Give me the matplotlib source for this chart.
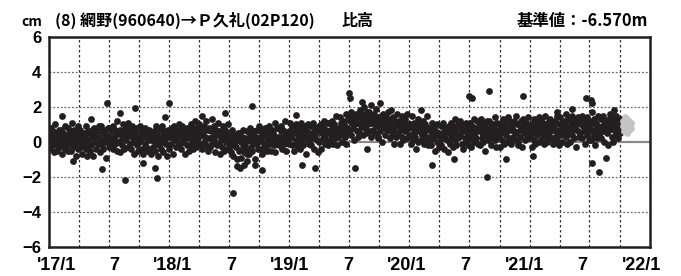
import pandas as pd
import matplotlib.pyplot as plt
import matplotlib.dates as mdates
import matplotlib.transforms as mtrans
from matplotlib.ticker import FuncFormatter

# height relative to baseline in mm, one value every 2 days (15 per row ~ 1 month)
vals_2017 = [4, -4, 8, 1, -1, 6, -6, 3, 10, -2, 2, -5, 5, 7, 0,
             -3, 3, 7, -7, 2, 5, -1, 9, -4, 1, 4, -2, 8, -5, 3,
             6, 0, -5, 4, 11, -3, 1, 7, -1, -8, 5, 3, -4, 9, 2,
             0, 7, -3, 4, -7, 2, 5, -1, 3, -4, 9, -8, 1, 6, -2,
             -5, 5, 2, -2, 7, -8, 4, 8, 0, 3, -4, 6, 1, -1, 9,
             3, -6, 6, 9, -2, 1, -4, 5, 2, 7, -9, 4, 0, 8, -3,
             8, 3, -2, 1, 6, 9, -4, 2, 7, -1, 4, 12, -5, 5, 0,
             0, 7, -6, 5, 2, -2, 10, 3, -4, 6, 8, 1, 4, -3, 11,
             6, -1, 4, -4, 9, 3, 0, 7, -7, 5, 2, 8, -2, 3, -5,
             0, 9, 1, 6, -4, 4, -7, 7, 3, -1, 8, -3, 5, -5, 1,
             7, -4, 3, 1, -7, 5, 2, -3, 6, 0, -5, 9, -1, 4, -8,
             -2, 1, 7, -4, 3, 9, 0, -6, 5, 2, 6, -1, 4, -8, 7,
             3, -2, 5]
vals_2018 = [-4, 6, 3, -1, 8, -7, 5, 9, 1, 4, -3, 7, 2, 0, 10,
             6, -1, 4, -4, 9, 3, 0, 7, -7, 5, 2, 8, -2, 3, -5,
             6, -2, 10, 3, 1, 8, -4, 5, 12, 0, 4, -3, 7, 9, 2,
             10, -1, 6, 4, -4, 8, 5, 0, 9, 3, -2, 12, 2, 7, -5,
             8, 2, -3, 6, 13, -1, 3, 9, 1, -6, 7, 5, -2, 11, 4,
             -1, 6, -7, 4, 1, -3, 9, 2, -5, 5, 7, 0, 3, -4, 10,
             -4, -1, 5, -6, 1, 7, -2, -8, 3, 0, 4, -3, 2, -10, 5,
             -5, 1, 5, -9, 0, 3, -3, 7, -6, -1, 2, -4, 6, -7, 1,
             2, -7, 5, 8, -3, 0, -5, 4, 1, 6, -10, 3, -1, 7, -4,
             0, 9, 1, 6, -4, 4, -7, 7, 3, -1, 8, -3, 5, -5, 1,
             2, 9, -1, 6, -5, 4, 7, 1, 5, -2, 11, -6, 3, 8, 0,
             8, 3, -2, 1, 6, 9, -4, 2, 7, -1, 4, 12, -5, 5, 0,
             4, -1, 6]
vals_2019 = [2, 11, 3, 8, -2, 6, -5, 9, 5, 1, 10, -1, 7, -3, 3,
             5, -4, 8, 11, 0, 3, -2, 7, 4, 9, -7, 6, 2, 10, -1,
             0, 3, 9, -2, 5, 11, 2, -4, 7, 4, 8, 1, 6, -6, 9,
             0, 6, 10, -4, 5, 8, 2, 12, -1, 4, 7, 1, 11, -2, 6,
             11, 6, 1, 4, 9, 12, -1, 5, 10, 2, 7, 15, -2, 8, 3,
             7, 14, 4, 11, 0, 9, 12, 6, 10, 3, 16, -1, 8, 13, 5,
             14, 7, 12, 4, 17, 11, 8, 15, 1, 13, 10, 16, 6, 11, 3,
             14, 6, 18, 11, 9, 16, 4, 13, 20, 8, 12, 5, 15, 17, 10,
             17, 6, 13, 11, 3, 15, 12, 7, 16, 10, 5, 19, 9, 14, 2,
             3, 13, 10, 6, 15, 0, 12, 16, 8, 11, 4, 14, 9, 7, 17,
             13, 7, 2, 11, 18, 4, 8, 14, 6, -1, 12, 10, 3, 16, 9,
             5, 12, -1, 10, 7, 3, 15, 8, 1, 11, 13, 6, 9, 2, 16,
             8, 4, 10]
vals_2020 = [10, 4, -1, 8, 15, 1, 5, 11, 3, -4, 9, 7, 0, 13, 6,
             11, 6, 1, 4, 9, 12, -1, 5, 10, 2, 7, 15, -2, 8, 3,
             8, 1, 6, -2, 11, 5, 2, 9, -5, 7, 4, 10, 0, 5, -3,
             0, 3, 9, -2, 5, 11, 2, -4, 7, 4, 8, 1, 6, -6, 9,
             7, -1, 11, 4, 2, 9, -3, 6, 13, 1, 5, -2, 8, 10, 3,
             3, 12, 4, 9, -1, 7, -4, 10, 6, 2, 11, 0, 8, -2, 4,
             1, 7, 11, -3, 6, 9, 3, 13, 0, 5, 8, 2, 12, -1, 7,
             7, -2, 10, 13, 2, 5, 0, 9, 6, 11, -5, 8, 4, 12, 1,
             5, 12, 2, 9, -2, 7, 10, 4, 8, 1, 14, -3, 6, 11, 3,
             3, 10, -3, 8, 5, 1, 13, 6, -1, 9, 11, 4, 7, 0, 14,
             13, 2, 9, 7, -1, 11, 8, 3, 12, 6, 1, 15, 5, 10, -2,
             0, 10, 7, 3, 12, -3, 9, 13, 5, 8, 1, 11, 6, 4, 14,
             7, 2, 9]
vals_2021 = [3, 10, -3, 8, 5, 1, 13, 6, -1, 9, 11, 4, 7, 0, 14,
             9, 1, 13, 6, 4, 11, -1, 8, 15, 3, 7, 0, 10, 12, 5,
             13, 2, 9, 7, -1, 11, 8, 3, 12, 6, 1, 15, 5, 10, -2,
             7, 14, 4, 11, 0, 9, 12, 6, 10, 3, 16, -1, 8, 13, 5,
             9, 0, 12, 15, 4, 7, 2, 11, 8, 13, -3, 10, 6, 14, 3,
             12, 5, 10, 2, 15, 9, 6, 13, -1, 11, 8, 14, 4, 9, 1,
             12, 6, 1, 10, 17, 3, 7, 13, 5, -2, 11, 9, 2, 15, 8,
             4, 7, 13, 2, 9, 15, 6, 0, 11, 8, 12, 5, 10, -2, 13,
             7, 16, 8, 13, 3, 11, 0, 14, 10, 6, 15, 4, 12, 2, 8,
             11, 5, 9, 13]
starts = ['2017-01-04', '2018-01-02', '2019-01-02', '2020-01-02', '2021-01-02']

# scattered points away from the band (date, cm)
out_dates = ['2017-02-10', '2017-06-25', '2017-06-12', '2017-08-20', '2017-08-05',
             '2017-09-20', '2017-11-25', '2017-11-20', '2018-01-01', '2018-07-15',
             '2018-06-20', '2018-09-10', '2018-10-10', '2018-07-25', '2018-08-05',
             '2019-01-20', '2019-02-10', '2019-03-20', '2019-06-30', '2019-07-05',
             '2019-07-20', '2019-10-05', '2020-02-05', '2020-03-10', '2020-06-30',
             '2020-07-08', '2020-08-30', '2020-08-25', '2020-12-10', '2021-01-10',
             '2021-06-20', '2021-07-05', '2021-07-08', '2021-07-30', '2021-07-10',
             '2021-05-10', '2017-03-15', '2017-05-10', '2017-10-15', '2017-12-20',
             '2018-04-10', '2018-08-15', '2018-08-25', '2018-09-20', '2019-08-10',
             '2019-09-05', '2019-08-25', '2020-05-15', '2020-10-20', '2021-03-25',
             '2021-08-20', '2021-09-15']
out_vals = [1.5, 2.2, -1.55, -2.2, 1.65,
            1.95, -2.05, -1.5, 2.25, -2.95,
            1.65, 2.05, -1.6, -1.4, -1.5,
            1.55, -1.3, -1.5, 2.8, 2.5,
            -1.5, 2.2, 1.8, -1.3, 2.65,
            2.5, 2.9, -2.0, 2.65, -0.8,
            2.5, 2.4, 2.2, -1.7, -1.2,
            1.9, -1.1, 1.3, -1.2, 1.4,
            1.5, -1.3, -1.1, -1.35, 2.3,
            2.1, -0.4, -1.0, -1.0, 1.7,
            -0.9, 1.8]

# preliminary values (gray), mm, every 2 days
gray_start = '2021-10-10'
gray_vals = [9, 12, 6, 14, 8, 11, 5, 13, 10, 7, 12, 9, 8, 11]

title_text = '(8) 網野(960640)→Ｐ久礼(02P120)'
kind_text = '比高'
base_text = '基準値：-6.570m'

plt.rcParams['font.family'] = ['Liberation Sans', 'Noto Sans CJK JP', 'DejaVu Sans']

fig = plt.figure(figsize=(6.81, 2.76), dpi=100)
ax = fig.add_axes([0.072, 0.106, 0.8825, 0.76])

dark = '#231f20'
for st, vals in zip(starts, [vals_2017, vals_2018, vals_2019, vals_2020, vals_2021]):
    d = pd.date_range(st, periods=len(vals), freq='2D')
    ax.scatter(d, [v / 10 for v in vals], s=24, color=dark, linewidths=0, zorder=3)
ax.scatter(pd.to_datetime(out_dates), out_vals, s=24, color=dark, linewidths=0, zorder=3)
gd = pd.date_range(gray_start, periods=len(gray_vals), freq='2D')
ax.scatter(gd, [v / 10 for v in gray_vals], s=24, color='#c4c4c4', linewidths=0, zorder=3)

ax.axhline(0, color='#8a8a8a', lw=1.6, zorder=2)

# dotted grid: every 3 months, every 2 cm
for q in pd.date_range('2017-04-01', '2021-10-01', freq='QS'):
    ax.axvline(q, color='#333333', lw=0.9, ls=(0, (2, 2)), zorder=1)
for yv in [-4, -2, 2, 4]:
    ax.axhline(yv, color='#666666', lw=0.9, ls=(0, (1.5, 1.5)), zorder=1)

ax.set_xlim(pd.Timestamp('2017-01-01'), pd.Timestamp('2022-01-01'))
ax.set_ylim(-6, 6)
ax.set_yticks([-6, -4, -2, 0, 2, 4, 6])
ax.xaxis.set_major_locator(mdates.MonthLocator(bymonth=[1, 7]))


def fmt(x, pos):
    d = mdates.num2date(x)
    if d.month == 1:
        return "'%02d/1" % (d.year % 100)
    return str(d.month)


ax.xaxis.set_major_formatter(FuncFormatter(fmt))
ax.tick_params(which='both', length=0)
ax.tick_params(axis='y', pad=5.5)
ax.tick_params(axis='x', pad=7.5)
for k, lab in enumerate(ax.get_xticklabels()):
    lab.set_fontsize(13)
    lab.set_fontweight('bold')
    dx = (7 - 1.6 * k) / 100
    lab.set_transform(lab.get_transform() + mtrans.ScaledTranslation(dx, 0, fig.dpi_scale_trans))
for lab in ax.get_yticklabels():
    lab.set_fontsize(12)
    lab.set_fontweight('bold')

for sp in ax.spines.values():
    sp.set_linewidth(1.8)
    sp.set_color(dark)

cjk = ['Noto Sans CJK JP', 'DejaVu Sans']
fig.text(0.062, 0.905, 'cm', fontsize=10, fontweight='bold', va='baseline', ha='right', family=cjk)
fig.text(0.081, 0.905, title_text, fontsize=11.5, fontweight='bold', va='baseline', family=cjk)
fig.text(0.502, 0.905, kind_text, fontsize=11.5, fontweight='bold', va='baseline', family=cjk)
fig.text(0.952, 0.905, base_text, fontsize=11.8, fontweight='bold', va='baseline', ha='right',
         family=cjk)

fig.savefig('out.png', dpi=100)
